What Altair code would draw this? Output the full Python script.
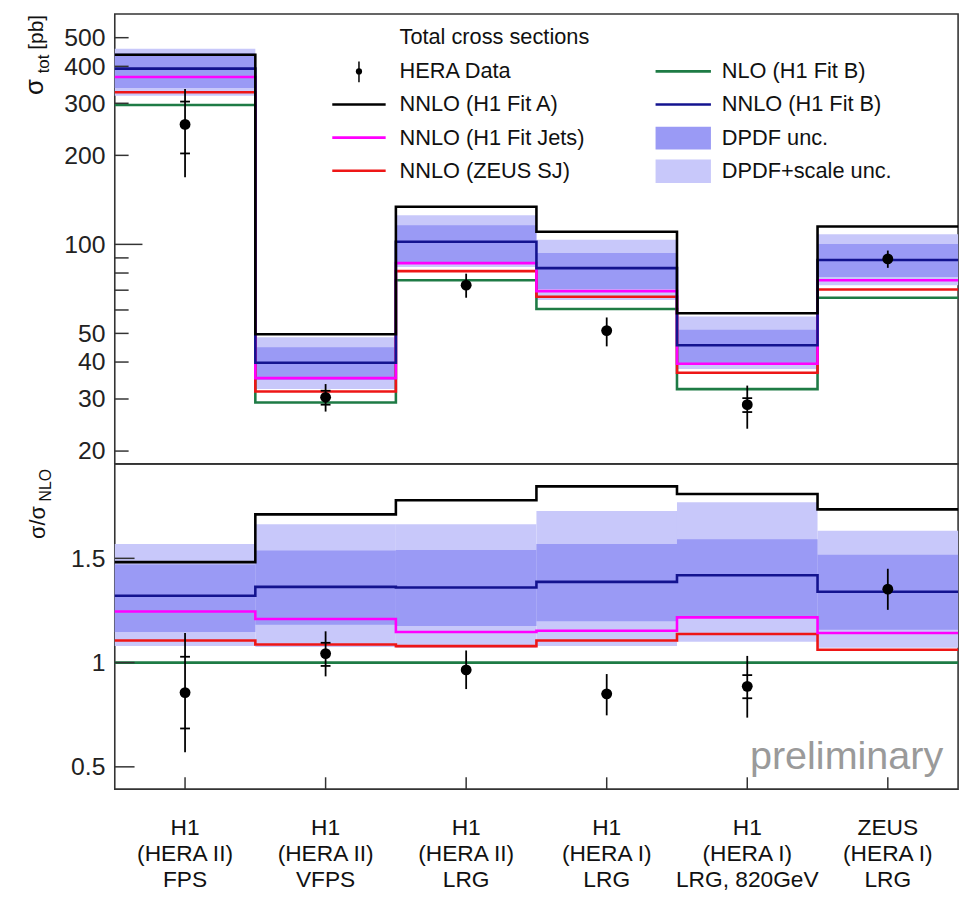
import altair as alt
import pandas as pd

FONT = "Liberation Sans"

# ---------------- data ----------------
x_lab1 = ["H1", "H1", "H1", "H1", "H1", "ZEUS"]
x_lab2 = ["(HERA II)", "(HERA II)", "(HERA II)", "(HERA I)", "(HERA I)", "(HERA I)"]
x_lab3 = ["FPS", "VFPS", "LRG", "LRG", "LRG, 820GeV", "LRG"]

# upper panel: total cross sections [pb]
nnlo_fit_a = [438, 49.7, 134, 110.3, 58.5, 114.9]
nnlo_fit_b = [393, 39.8, 102, 83.1, 45.6, 88.6]
nnlo_jets = [368, 35.3, 86.4, 69.5, 39.5, 75.6]
nnlo_zeus = [327, 31.8, 81.2, 66.5, 36.8, 70.4]
nlo_fit_b = [296, 29.2, 75.6, 60.5, 32.4, 66.0]
dpdf_lo = [338, 34.8, 87.1, 70.6, 39.5, 77.6]
dpdf_hi = [443, 44.9, 116, 93.5, 51.4, 100.2]
scale_lo = [318, 32.4, 83.8, 64.8, 37.9, 72.8]
scale_hi = [459, 48.5, 125.4, 103.7, 57.0, 108.3]
data_val = [254.5, 30.4, 72.8, 51.1, 28.7, 89.3]
data_tot_lo = [168.8, 27.2, 66.0, 45.2, 23.8, 83.3]
data_tot_hi = [335, 33.7, 79.6, 56.6, 33.3, 95.3]
data_stat_lo = [203, 28.7, 72.8, 51.1, 27.1, 89.3]
data_stat_hi = [304, 32.0, 72.8, 51.1, 30.2, 89.3]

# lower panel: ratio to NLO
r_fit_a = [1.482, 1.711, 1.779, 1.845, 1.809, 1.735]
r_fit_b = [1.321, 1.363, 1.360, 1.387, 1.419, 1.340]
r_jets = [1.245, 1.209, 1.147, 1.153, 1.217, 1.142]
r_zeus = [1.106, 1.087, 1.079, 1.106, 1.137, 1.062]
r_nlo = [1.0, 1.0, 1.0, 1.0, 1.0, 1.0]
r_dpdf_lo = [1.147, 1.182, 1.175, 1.198, 1.221, 1.158]
r_dpdf_hi = [1.470, 1.537, 1.540, 1.569, 1.592, 1.517]
r_scale_lo = [1.079, 1.075, 1.071, 1.079, 1.100, 1.071]
r_scale_hi = [1.569, 1.664, 1.664, 1.727, 1.769, 1.632]
r_data = [0.856, 1.043, 0.965, 0.850, 0.886, 1.352]
r_tot_lo = [0.570, 0.934, 0.873, 0.747, 0.736, 1.253]
r_tot_hi = [1.142, 1.150, 1.058, 0.945, 1.032, 1.450]
r_stat_lo = [0.684, 0.984, 0.965, 0.850, 0.829, 1.352]
r_stat_hi = [1.028, 1.095, 0.965, 0.850, 0.940, 1.352]

top_ticks_long = [100]
top_ticks_short = [20, 30, 40, 50, 60, 70, 80, 90, 200, 300, 400, 500]
top_labels = [20, 30, 40, 50, 100, 200, 300, 400, 500]
bot_ticks = [0.5, 1.0, 1.5]

series_names = ["NLO (H1 Fit B)", "NNLO (ZEUS SJ)", "NNLO (H1 Fit Jets)", "NNLO (H1 Fit B)", "NNLO (H1 Fit A)"]
series_colors = ["#1e7b45", "#ee1616", "#ff00ff", "#13138f", "#000000"]
DARK = "#9a9af5"
LIGHT = "#c8c8fa"

W = 853
H_TOP = 455
H_BOT = 329
nbins = len(x_lab1)

# ---------------- tables ----------------
def step_table(series):
    rows = []
    for name, vals in series:
        k = 0
        for i, v in enumerate(vals):
            rows.append(dict(s=name, x=i, v=v, k=k)); k += 1
            rows.append(dict(s=name, x=i + 1, v=v, k=k)); k += 1
    return pd.DataFrame(rows)


def band_table(lo, hi):
    return pd.DataFrame(dict(x=list(range(nbins)), x2=[i + 1 for i in range(nbins)], lo=lo, hi=hi))


def data_table(val, tlo, thi, slo, shi):
    c = [i + 0.5 for i in range(nbins)]
    return pd.DataFrame(dict(c=c, cl=[v - 0.035 for v in c], cr=[v + 0.035 for v in c],
                             v=val, tlo=tlo, thi=thi, slo=slo, shi=shi))


xs = alt.Scale(domain=[0, nbins], nice=False, zero=False)
ys_top = alt.Scale(type="log", domain=[18.1, 601], nice=False)
ys_bot = alt.Scale(domain=[0.393, 1.953], nice=False, zero=False)

axis_top = alt.Axis(values=top_labels, format="d", ticks=False, domain=False, grid=False,
                    labelFontSize=25, labelFont=FONT, labelColor="#222", labelPadding=10,
                    labelOverlap=False, title=None)
axis_bot = alt.Axis(values=bot_ticks, format="~g", ticks=False, domain=False, grid=False,
                    labelFontSize=25, labelFont=FONT, labelColor="#222", labelPadding=10,
                    labelOverlap=False, title=None)
color_scale = alt.Scale(domain=series_names, range=series_colors)


def X(f):
    return alt.X(f, type="quantitative", scale=xs, axis=None)


def make_panel(ys, axis, lines, scale_band, dpdf_band, dtab):
    def Y(f):
        return alt.Y(f, type="quantitative", scale=ys, axis=axis)

    light = alt.Chart(scale_band).mark_rect(color=LIGHT).encode(x=X("x"), x2="x2", y=Y("lo"), y2="hi")
    dark = alt.Chart(dpdf_band).mark_rect(color=DARK).encode(x=X("x"), x2="x2", y=Y("lo"), y2="hi")
    ln = alt.Chart(lines).mark_line(strokeWidth=2.6, strokeJoin="miter", strokeCap="butt").encode(
        x=X("x"), y=Y("v"),
        color=alt.Color("s:N", scale=color_scale, legend=None),
        detail="s:N", order="k:Q")
    err = alt.Chart(dtab).mark_rule(color="black", strokeWidth=1.8).encode(x=X("c"), y=Y("tlo"), y2="thi")
    st_lo = alt.Chart(dtab).mark_rule(color="black", strokeWidth=1.8).encode(x=X("cl"), x2="cr", y=Y("slo"))
    st_hi = alt.Chart(dtab).mark_rule(color="black", strokeWidth=1.8).encode(x=X("cl"), x2="cr", y=Y("shi"))
    pts = alt.Chart(dtab).mark_circle(color="black", size=120, opacity=1).encode(x=X("c"), y=Y("v"))
    return [light, dark, ln, err, st_lo, st_hi, pts], Y


def txt(text, px, py, size=22, align="left", baseline="middle", angle=0, color="#111"):
    return alt.Chart(pd.DataFrame({"t": [text]})).mark_text(
        align=align, baseline=baseline, fontSize=size, font=FONT, angle=angle, color=color
    ).encode(x=alt.value(px), y=alt.value(py), text="t:N")


def hline(x1, x2, y, color, w=2.6):
    return alt.Chart(pd.DataFrame({"a": [0]})).mark_rule(color=color, strokeWidth=w).encode(
        x=alt.value(x1), x2=alt.value(x2), y=alt.value(y))


def box(x1, x2, y1, y2, color):
    return alt.Chart(pd.DataFrame({"a": [0]})).mark_rect(color=color).encode(
        x=alt.value(x1), x2=alt.value(x2), y=alt.value(y1), y2=alt.value(y2))


# ---------------- upper panel ----------------
top_lines = step_table(list(zip(series_names, [nlo_fit_b, nnlo_zeus, nnlo_jets, nnlo_fit_b, nnlo_fit_a])))
top_layers, Yt = make_panel(ys_top, axis_top, top_lines, band_table(scale_lo, scale_hi),
                            band_table(dpdf_lo, dpdf_hi),
                            data_table(data_val, data_tot_lo, data_tot_hi, data_stat_lo, data_stat_hi))
tick_long = alt.Chart(pd.DataFrame({"v": top_ticks_long})).mark_rule(color="#333", strokeWidth=1.5).encode(
    x=alt.value(0), x2=alt.value(28), y=Yt("v"))
tick_short = alt.Chart(pd.DataFrame({"v": top_ticks_short})).mark_rule(color="#333", strokeWidth=1.5).encode(
    x=alt.value(0), x2=alt.value(14), y=Yt("v"))

legend = [
    txt("Total cross sections", 288, 23),
    alt.Chart(pd.DataFrame({"a": [0]})).mark_rule(color="black", strokeWidth=1.5).encode(
        x=alt.value(247), y=alt.value(48), y2=alt.value(69)),
    alt.Chart(pd.DataFrame({"a": [0]})).mark_circle(color="black", size=40, opacity=1).encode(
        x=alt.value(247), y=alt.value(58)),
    txt("HERA Data", 288, 58),
    hline(220, 274, 91.5, "#000000"), txt("NNLO (H1 Fit A)", 288, 91.5),
    hline(220, 274, 125, "#ff00ff"), txt("NNLO (H1 Fit Jets)", 288, 125),
    hline(220, 274, 158.5, "#ee1616"), txt("NNLO (ZEUS SJ)", 288, 158.5),
    hline(547, 603, 58, "#1e7b45"), txt("NLO (H1 Fit B)", 614, 58),
    hline(547, 603, 91.5, "#13138f"), txt("NNLO (H1 Fit B)", 614, 91.5),
    box(547, 603, 114, 137, DARK), txt("DPDF unc.", 614, 125),
    box(547, 603, 147, 171, LIGHT), txt("DPDF+scale unc.", 614, 158.5),
]
top_title = [
    txt("σ", -73, 82, size=26, baseline="alphabetic", angle=270),
    txt("tot", -67, 60, size=17, baseline="alphabetic", angle=270),
    txt("[pb]", -73, 36, size=21, baseline="alphabetic", angle=270),
]
top = alt.layer(*top_layers, tick_long, tick_short, *legend, *top_title).properties(width=W, height=H_TOP)

# ---------------- lower panel ----------------
bot_lines = step_table(list(zip(series_names, [r_nlo, r_zeus, r_jets, r_fit_b, r_fit_a])))
bot_layers, Yb = make_panel(ys_bot, axis_bot, bot_lines, band_table(r_scale_lo, r_scale_hi),
                            band_table(r_dpdf_lo, r_dpdf_hi),
                            data_table(r_data, r_tot_lo, r_tot_hi, r_stat_lo, r_stat_hi))
ytick = alt.Chart(pd.DataFrame({"v": bot_ticks})).mark_rule(color="#333", strokeWidth=1.5).encode(
    x=alt.value(0), x2=alt.value(20), y=Yb("v"))
xt = pd.DataFrame(dict(c=[i + 0.5 for i in range(nbins)], l1=x_lab1, l2=x_lab2, l3=x_lab3))
xtick = alt.Chart(xt).mark_rule(color="#333", strokeWidth=1.5).encode(
    x=X("c"), y=alt.value(H_BOT - 12), y2=alt.value(H_BOT))
xl = [alt.Chart(xt).mark_text(fontSize=23, font=FONT, color="#111", align="center", baseline="middle").encode(
    x=X("c"), y=alt.value(yy), text=f"{col}:N") for col, yy in (("l1", 368), ("l2", 394.5), ("l3", 421))]
bot_title = [
    txt("σ/σ", -71, 76, size=22, baseline="alphabetic", angle=270),
    txt("NLO", -65, 38, size=16, baseline="alphabetic", angle=270),
]
prelim = txt("preliminary", 838, 309, size=40, align="right", baseline="alphabetic", color="#9a9a9a")
bottom = alt.layer(*bot_layers, ytick, xtick, *xl, *bot_title, prelim).properties(width=W, height=H_BOT)

chart = alt.vconcat(top, bottom, spacing=0, bounds="flush").properties(
    padding={"left": 13, "top": 0, "right": 2, "bottom": 2}
).configure_view(stroke="#333", strokeWidth=1.6)

chart.save("out.html", embed_options={"renderer": "svg", "actions": False})
